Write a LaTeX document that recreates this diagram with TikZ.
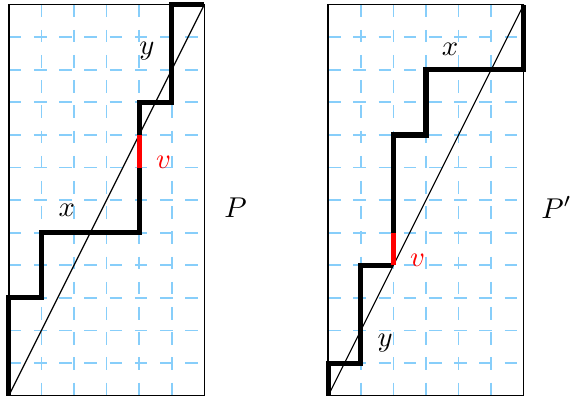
\documentclass[tikz,border=0pt]{standalone}
\definecolor{gridblue}{RGB}{135,206,250}
\tikzset{
  gridline/.style={gridblue, line width=0.6pt, dash pattern=on 4.4pt off 4.4pt},
  frame/.style={line width=0.5pt},
  diag/.style={line width=0.4pt},
  stair/.style={line width=1.8pt, line join=miter},
  redseg/.style={red, line width=1.8pt},
  lab/.style={inner sep=0pt},
}
\begin{document}
\begin{tikzpicture}[x=0.4cm,y=0.4cm]
\useasboundingbox (-0.27,-0.08) rectangle (17.25,12.14);
% ---------- left panel ----------
\begin{scope}
  \foreach \j in {1,...,11} {\draw[gridline] (0,\j) -- (6,\j);}
  \foreach \i in {1,...,5} {\draw[gridline] (\i,12) -- (\i,0);}
  \draw[frame] (0,0) rectangle (6,12);
  \coordinate (L0) at (0,0);
  \coordinate (L1) at (6,12);
  \draw[diag] (L0) -- (L1);
  \coordinate (La) at (4,7);
  \coordinate (Lb) at (4,8);
  \draw[stair] (L0) -- (0,3) -- (1,3) -- (1,5) -- (4,5) -- (La);
  \draw[stair] (Lb) -- (4,9) -- (5,9) -- (5,12) -- (L1);
  \draw[redseg] (La) -- (Lb);
  \node[lab] (ly) at (4.24,10.56) {$y$};
  \node[lab] (lx) at (1.78,5.69) {$x$};
  \node[lab, red] (lv) at (4.75,7.16) {$v$};
  \node[lab, anchor=west] (lP) at (6.6,5.77) {$P$};
\end{scope}
% ---------- right panel ----------
\begin{scope}[xshift=9.8*0.4cm]
  \foreach \j in {1,...,11} {\draw[gridline] (0,\j) -- (6,\j);}
  \foreach \i in {1,...,5} {\draw[gridline] (\i,12) -- (\i,0);}
  \draw[frame] (0,0) rectangle (6,12);
  \coordinate (R0) at (0,0);
  \coordinate (R1) at (6,12);
  \draw[diag] (R0) -- (R1);
  \coordinate (Ra) at (2,4);
  \coordinate (Rb) at (2,5);
  \draw[stair] (R0) -- (0,1) -- (1,1) -- (1,4) -- (Ra);
  \draw[stair] (Rb) -- (2,8) -- (3,8) -- (3,10) -- (6,10) -- (R1);
  \draw[redseg] (Ra) -- (Rb);
  \node[lab] (rx) at (3.74,10.62) {$x$};
  \node[lab] (ry) at (1.75,1.62) {$y$};
  \node[lab, red] (rv) at (2.74,4.16) {$v$};
  \node[lab, anchor=west] (rP) at (6.52,5.77) {$P'$};
\end{scope}
\end{tikzpicture}
\end{document}
